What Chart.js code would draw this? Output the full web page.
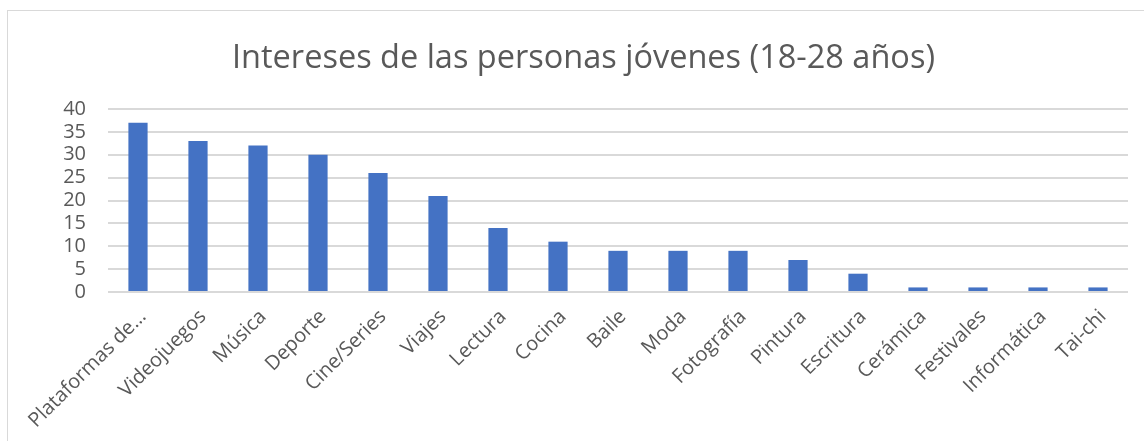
<!DOCTYPE html>
<html>
<head>
<meta charset="utf-8">
<script src="https://cdn.jsdelivr.net/npm/chart.js@4.4.1/dist/chart.umd.min.js"></script>
<style>
  html, body { margin: 0; padding: 0; background: #fff; }
  #wrap { position: relative; width: 1144px; height: 441px; overflow: hidden; }
  #frame { position: absolute; left: 7px; top: 10px; width: 1160px; height: 460px; border: 1px solid #d9d9d9; }
  #chart { position: absolute; left: 0; top: 0; }
</style>
</head>
<body>
<div id="wrap">
  <div id="frame"></div>
  <canvas id="chart" width="1144" height="441"></canvas>
</div>
<script>
const titleText = 'Intereses de las personas jóvenes (18-28 años)';
const categories = ['Plataformas de…', 'Videojuegos', 'Música', 'Deporte', 'Cine/Series', 'Viajes', 'Lectura',
  'Cocina', 'Baile', 'Moda', 'Fotografía', 'Pintura', 'Escritura', 'Cerámica', 'Festivales', 'Informática', 'Tai-chi'];
const values = [37, 33, 32, 30, 26, 21, 14, 11, 9, 9, 9, 7, 4, 1, 1, 1, 1];
const yMax = 40;
const yStep = 5;

const textColor = '#595959';
const gridColor = '#d9d9d9';
const font = "'Open Sans', sans-serif";

new Chart(document.getElementById('chart'), {
  type: 'bar',
  data: {
    labels: categories,
    datasets: [{
      data: values,
      backgroundColor: '#4472c4',
      barPercentage: 0.32,
      categoryPercentage: 1
    }]
  },
  options: {
    responsive: false,
    animation: false,
    layout: { padding: { left: 39, right: 16, top: 0, bottom: 0 } },
    plugins: {
      legend: { display: false },
      tooltip: { enabled: false },
      title: {
        display: true,
        text: titleText,
        color: textColor,
        font: { family: font, size: 32.5, weight: 'normal' },
        padding: { top: 39, bottom: 31 }
      }
    },
    scales: {
      x: {
        grid: { display: false },
        border: { display: false },
        ticks: {
          color: textColor,
          font: { family: font, size: 20 },
          minRotation: 45,
          maxRotation: 45,
          autoSkip: false,
          labelOffset: 5,
          padding: 5
        },
        afterFit: (axis) => { axis.height = 149; }
      },
      y: {
        min: 0,
        max: yMax,
        border: { display: false },
        grid: { color: gridColor, lineWidth: 2, drawTicks: false },
        ticks: {
          stepSize: yStep,
          autoSkip: false,
          color: textColor,
          font: { family: font, size: 20 },
          padding: 22
        },
        afterFit: (axis) => { axis.width = 69; }
      }
    }
  }
});
</script>
</body>
</html>
